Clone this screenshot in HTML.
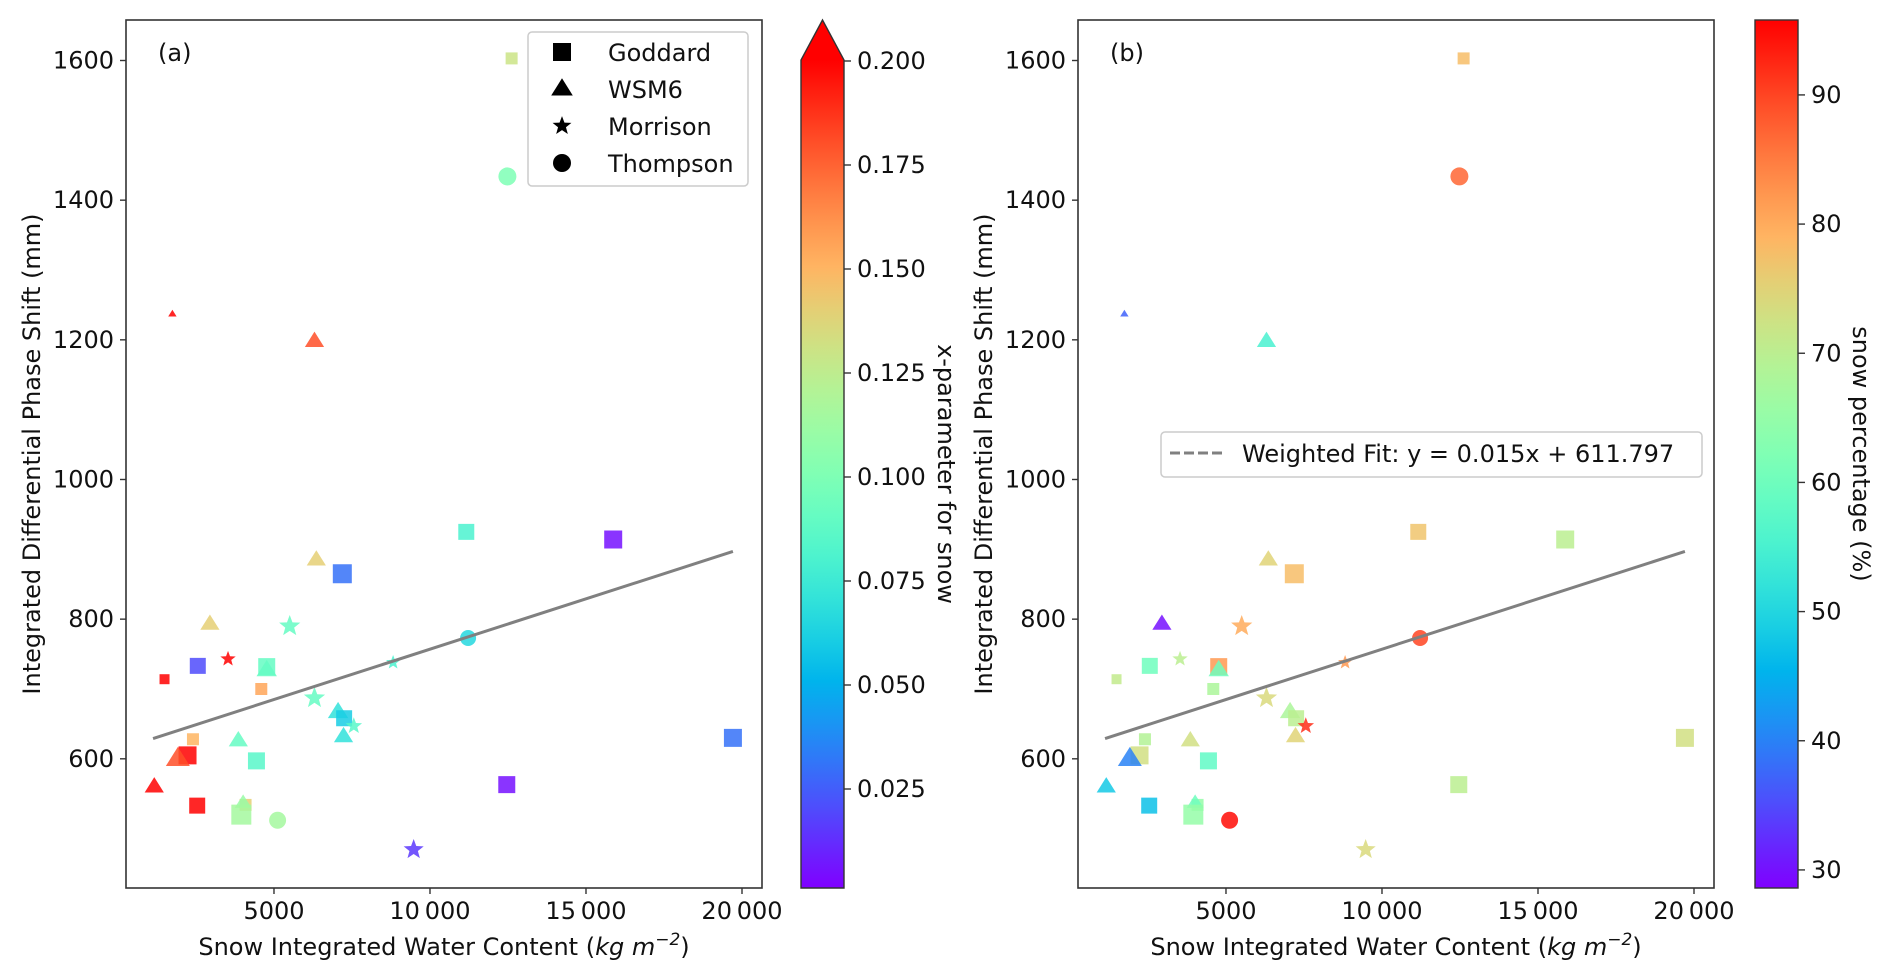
<!DOCTYPE html>
<html><head><meta charset="utf-8"><style>
html,body{margin:0;padding:0;background:#fff;}
svg{display:block;font-family:"DejaVu Sans","Liberation Sans",sans-serif;}
</style></head><body>
<svg id="fig" width="1892" height="978" viewBox="0 0 1892 978" xmlns="http://www.w3.org/2000/svg">
<defs>
<linearGradient id="gradA" x1="0" y1="1" x2="0" y2="0"></linearGradient>
<linearGradient id="gradB" x1="0" y1="1" x2="0" y2="0"></linearGradient>
</defs>
</svg>
<script>
// ---- data ----
const swc   = [12616,12481,1744,6298,11163,15872,6357,7190,2946,5504,3527,11221,8818,1492,2558,4767,4767,4593,6298,7054,7248,7558,7229,2403,3857,2229,1919,4438,19709,1163,12461,2539,4089,4011,3953,5116,9477];
const idp   = [1603,1434,1237,1198,925,914,885,865,793,790,743,773,738,714,733,732,727,700,687,667,658,647,632,628,626,605,600,597,630,560,563,533,534,537,520,512,470];
const scheme= ["s","c","t","t","s","s","t","s","t","m","m","c","m","s","s","s","t","s","m","t","s","m","t","s","t","s","t","s","s","t","s","s","s","t","s","c","m"];
const xparam= [0.13,0.10,0.21,0.18,0.08,0.005,0.14,0.03,0.14,0.09,0.21,0.065,0.08,0.21,0.02,0.09,0.09,0.155,0.09,0.07,0.06,0.085,0.07,0.15,0.09,0.21,0.18,0.085,0.03,0.21,0.005,0.21,0.14,0.11,0.115,0.115,0.015];
const snowPct=[78,87,37,55,77,70,75,78,30,80,70,90,82,71,60,82,60,68,74,68,70,92,75,69,73,73,40,58,73,48,70,47,65,60,65,95,74];
const msize = [12,18,7,16,16,18,16,19,16,18,13,16,12,10,16,17,17,12,18,17,16,14,16,12,16,18,20,17,18,16,17,16,12,14,20,17,17];
const fitX = [1124,19709];
const fitY = [629,897];
const xTicks=[5000,10000,15000,20000];
const xTickLabels=["5000","10\u2009000","15\u2009000","20\u2009000"];
const yTicks=[600,800,1000,1200,1400,1600];
const cbATicks=[0.025,0.05,0.075,0.1,0.125,0.15,0.175,0.2];
const cbATickLabels=["0.025","0.050","0.075","0.100","0.125","0.150","0.175","0.200"];
const cbBTicks=[30,40,50,60,70,80,90];
const legendNames=["Goddard","WSM6","Morrison","Thompson"];
const legendShapes=["s","t","m","c"];

// ---- layout ----
const NS="http://www.w3.org/2000/svg";
const svg=document.getElementById('fig');
const T=20,B=888,W=636;
const XD=[257,20641], YD=[415,1658];
function mk(tag,attrs,parent){const e=document.createElementNS(NS,tag);for(const k in attrs)e.setAttribute(k,attrs[k]);(parent||svg).appendChild(e);return e;}
function rainbow(t){t=Math.max(0,Math.min(1,t));const r=Math.abs(2*t-0.5),g=Math.sin(Math.PI*t),b=Math.cos(Math.PI*t/2);
 return `rgb(${Math.round(Math.min(1,r)*255)},${Math.round(g*255)},${Math.round(b*255)})`;}
function normA(v){return (v-0.001)/(0.2-0.001);}
function normB(v){return (v-28.6)/(95.8-28.6);}
['gradA','gradB'].forEach(id=>{const g=document.getElementById(id);for(let i=0;i<=20;i++){const s=document.createElementNS(NS,'stop');s.setAttribute('offset',(i/20));s.setAttribute('stop-color',rainbow(i/20));g.appendChild(s);}});

function markerPath(shape,cx,cy,s){
 if(shape==='s'){const h=s/2;return `M${cx-h},${cy-h}h${s}v${s}h${-s}Z`;}
 if(shape==='t'){const h=s*0.6;return `M${cx},${cy-h}L${cx+h},${cy+h*0.6}L${cx-h},${cy+h*0.6}Z`;}
 if(shape==='c'){const r=s/2;return `M${cx-r},${cy}a${r},${r} 0 1,0 ${2*r},0a${r},${r} 0 1,0 ${-2*r},0Z`;}
 let d='';const R=s*0.62,r=R*0.42;
 for(let i=0;i<10;i++){const a=-Math.PI/2+i*Math.PI/5;const rr=i%2?r:R;d+=(i?'L':'M')+(cx+rr*Math.cos(a)).toFixed(2)+','+(cy+rr*Math.sin(a)).toFixed(2);}
 return d+'Z';
}

function panel(L,tag,colorVals,norm,label){
 const sx=v=>L+(v-XD[0])/(XD[1]-XD[0])*W;
 const sy=v=>B-(v-YD[0])/(YD[1]-YD[0])*(B-T);
 const g=mk('g',{});
 
 
 const pg=mk('g',{},g);
 
 
 for(let i=0;i<swc.length;i++){
  const p=mk('path',{d:markerPath(scheme[i],sx(swc[i]),sy(idp[i]),msize[i]),fill:rainbow(norm(colorVals[i])),'fill-opacity':0.85},pg);
  
  
 }
 const fl=mk('line',{x1:sx(fitX[0]),y1:sy(fitY[0]),x2:sx(fitX[1]),y2:sy(fitY[1]),stroke:'#808080','stroke-width':3},g);
 
 
 const fr=mk('rect',{x:L,y:T,width:W,height:B-T,fill:'none',stroke:'#333','stroke-width':1.6},g);
 
 
 xTicks.forEach((v,i)=>{const x=sx(v);mk('line',{x1:x,y1:B,x2:x,y2:B+6,stroke:'#333','stroke-width':1.4},g);
  const t=mk('text',{x:x,y:919,'font-size':24,'text-anchor':'middle',fill:'#111'},g);t.textContent=xTickLabels[i];
  
  });
 yTicks.forEach(v=>{const y=sy(v);mk('line',{x1:L-6,y1:y,x2:L,y2:y,stroke:'#333','stroke-width':1.4},g);
  const t=mk('text',{x:L-12,y:y+8,'font-size':24,'text-anchor':'end',fill:'#111'},g);t.textContent=v;
  
  });
 const xl=mk('text',{x:L+W/2,y:955,'font-size':24,'text-anchor':'middle',fill:'#111'},g);
 xl.innerHTML='Snow Integrated Water Content (<tspan font-style="italic">kg m</tspan><tspan font-style="italic" dy="-10" font-size="17">−2</tspan><tspan dy="10">)</tspan>';
 
 
 const yx=L-86;
 const yl=mk('text',{x:yx,y:454,'font-size':24,'text-anchor':'middle',fill:'#111',transform:`rotate(-90 ${yx} 454)`},g);
 yl.textContent='Integrated Differential Phase Shift (mm)';
 
 
 const pl=mk('text',{x:L+32,y:61,'font-size':24,fill:'#111'},g);pl.textContent=label;
 
 
}
panel(126,'a',xparam,normA,'(a)');
panel(1078,'b',snowPct,normB,'(b)');

const lg=mk('g',{});


mk('rect',{x:528,y:32,width:220,height:154,rx:4,fill:'#fff','fill-opacity':0.8,stroke:'#ccc','stroke-width':1.5},lg);
legendNames.forEach((n,i)=>{const y=52+i*37;
 const e=mk('g',{},lg);
 
 
 mk('path',{d:markerPath(legendShapes[i],562,y,legendShapes[i]==='m'?16:18),fill:'#000'},e);
 const t=mk('text',{x:608,y:y+9,'font-size':24,fill:'#111'},e);t.textContent=n;});

const lb=mk('g',{});


mk('rect',{x:1161,y:432,width:541,height:45,rx:4,fill:'#fff','fill-opacity':0.8,stroke:'#ccc','stroke-width':1.5},lb);
mk('line',{x1:1170,y1:453,x2:1222,y2:453,stroke:'#808080','stroke-width':3,'stroke-dasharray':'10 4'},lb);
const lbt=mk('text',{x:1242,y:462,'font-size':24,fill:'#111'},lb);lbt.textContent='Weighted Fit: y = 0.015x + 611.797';

const ca=mk('g',{});


mk('path',{d:'M801,60L822.5,20L844,60Z',fill:'rgb(255,0,0)'},ca);
mk('rect',{x:801,y:60,width:43,height:828,fill:'url(#gradA)'},ca);
mk('path',{d:'M801,888L801,60L822.5,20L844,60L844,888Z',fill:'none',stroke:'#333','stroke-width':1.4},ca);
const cyA=v=>61+(0.2-v)*4160;
cbATicks.forEach((v,i)=>{const y=cyA(v);mk('line',{x1:844,y1:y,x2:851,y2:y,stroke:'#333','stroke-width':1.4},ca);
 const t=mk('text',{x:857,y:y+8,'font-size':24,fill:'#111'},ca);t.textContent=cbATickLabels[i];});
const cal=mk('text',{x:938,y:474,'font-size':24,'text-anchor':'middle',fill:'#111',transform:'rotate(90 938 474)'},ca);
cal.textContent='x-parameter for snow';

const cb=mk('g',{});


mk('rect',{x:1755,y:20,width:43,height:868,fill:'url(#gradB)',stroke:'#333','stroke-width':1.4},cb);
const cyB=v=>B-(v-28.6)/(95.8-28.6)*(B-T);
cbBTicks.forEach(v=>{const y=cyB(v);mk('line',{x1:1798,y1:y,x2:1805,y2:y,stroke:'#333','stroke-width':1.4},cb);
 const t=mk('text',{x:1811,y:y+8,'font-size':24,fill:'#111'},cb);t.textContent=v;});
const cbl=mk('text',{x:1853,y:454,'font-size':24,'text-anchor':'middle',fill:'#111',transform:'rotate(90 1853 454)'},cb);
cbl.textContent='snow percentage (%)';
</script>
</body></html>
